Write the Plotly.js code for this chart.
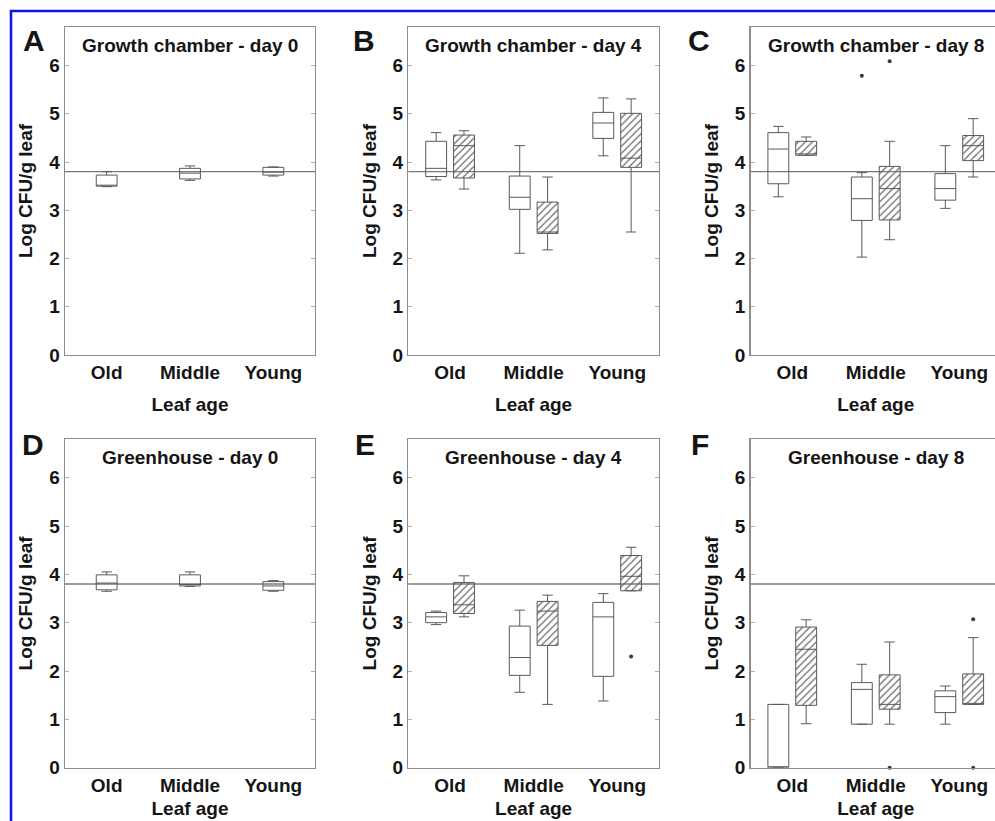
<!DOCTYPE html>
<html>
<head>
<meta charset="utf-8">
<script src="https://cdn.plot.ly/plotly-3.0.1.min.js"></script>
<style>
  html, body { margin: 0; padding: 0; overflow: hidden; background: #ffffff; }
  #chart { width: 1010px; height: 821px; }
</style>
</head>
<body>
<div id="chart"></div>
<script>
// ---------------- DATA ----------------
const categories = ['Old', 'Middle', 'Young'];
const inoculumLevel = 3.8;   // Log CFU/g leaf at inoculation (horizontal reference line)

const panelLetters = ['A', 'B', 'C', 'D', 'E', 'F'];
const panelTitles = [
  'Growth chamber - day 0', 'Growth chamber - day 4', 'Growth chamber - day 8',
  'Greenhouse - day 0', 'Greenhouse - day 4', 'Greenhouse - day 8'
];
const xTitle = 'Leaf age';
const yTitle = 'Log CFU/g leaf';
const yTicks = [0, 1, 2, 3, 4, 5, 6];

// Each row: [lower whisker, Q1, median, Q3, upper whisker] for Old, Middle, Young
// Panel A - growth chamber day 0 (open boxes only)
const statsA_open = [
  [3.49, 3.50, 3.50, 3.73, 3.80],
  [3.62, 3.65, 3.77, 3.87, 3.92],
  [3.71, 3.73, 3.79, 3.89, 3.90]
];
// Panel B - growth chamber day 4
const statsB_open = [
  [3.63, 3.70, 3.87, 4.43, 4.61],
  [2.11, 3.02, 3.27, 3.71, 4.34],
  [4.13, 4.49, 4.81, 5.03, 5.33]
];
const statsB_hatched = [
  [3.44, 3.67, 4.34, 4.56, 4.65],
  [2.18, 2.52, 2.55, 3.17, 3.69],
  [2.55, 3.89, 4.08, 5.01, 5.31]
];
// Panel C - growth chamber day 8
const statsC_open = [
  [3.28, 3.55, 4.27, 4.61, 4.74],
  [2.03, 2.79, 3.24, 3.69, 3.78],
  [3.04, 3.21, 3.45, 3.76, 4.34]
];
const statsC_hatched = [
  [4.14, 4.14, 4.17, 4.43, 4.52],
  [2.39, 2.80, 3.45, 3.91, 4.43],
  [3.69, 4.03, 4.34, 4.55, 4.90]
];
const outliersC_open = [[], [5.79], []];
const outliersC_hatched = [[], [6.09], []];
// Panel D - greenhouse day 0 (open boxes only)
const statsD_open = [
  [3.65, 3.68, 3.82, 3.99, 4.05],
  [3.75, 3.76, 3.79, 3.99, 4.05],
  [3.65, 3.67, 3.76, 3.85, 3.87]
];
// Panel E - greenhouse day 4
const statsE_open = [
  [2.96, 3.00, 3.12, 3.21, 3.24],
  [1.56, 1.91, 2.28, 2.93, 3.26],
  [1.38, 1.89, 3.12, 3.42, 3.60]
];
const statsE_hatched = [
  [3.12, 3.19, 3.37, 3.83, 3.97],
  [1.31, 2.53, 3.24, 3.44, 3.57],
  [3.66, 3.66, 3.96, 4.39, 4.56]
];
const outliersE_hatched = [[], [], [2.30]];
// Panel F - greenhouse day 8
const statsF_open = [
  [0.00, 0.00, 0.00, 1.31, 1.31],
  [0.90, 0.90, 1.62, 1.76, 2.14],
  [0.90, 1.14, 1.47, 1.59, 1.69]
];
const statsF_hatched = [
  [0.91, 1.29, 2.45, 2.91, 3.06],
  [0.90, 1.21, 1.31, 1.92, 2.60],
  [1.31, 1.31, 1.31, 1.94, 2.69]
];
const outliersF_hatched = [[], [0.0], [3.07, 0.0]];

// ---------------- STYLE / LAYOUT ----------------
const W = 1010, H = 821;
const colsPx = [[65, 315], [408.3, 659], [750.5, 1001]];
const rowsPx = [[27, 355], [439, 767.7]];
const letterShiftX = [-31, -44, -51.5, -32.4, -43.3, -50.7];
const letterShiftY = [-13.8, -13.8, -13.8, -5, -5, -5];
const xTitleStandoff = [15, 15, 15, 7, 7, 7];

const FONT = 'Liberation Sans, Arial, Helvetica, sans-serif';
const textColor = '#151515';
const frameColor = '#8c8c8c';
const boxLineColor = '#5a5a5a';
const refLineColor = '#7a7a7a';
const hatchColor = '#6a6a6a';

const panels = [
  {open: statsA_open, hatched: null, oOpen: null, oHatched: null},
  {open: statsB_open, hatched: statsB_hatched, oOpen: null, oHatched: null},
  {open: statsC_open, hatched: statsC_hatched, oOpen: outliersC_open, oHatched: outliersC_hatched},
  {open: statsD_open, hatched: null, oOpen: null, oHatched: null},
  {open: statsE_open, hatched: statsE_hatched, oOpen: null, oHatched: outliersE_hatched},
  {open: statsF_open, hatched: statsF_hatched, oOpen: null, oHatched: outliersF_hatched}
];

const col = (rows, k) => rows.map(r => r[k]);

function boxTrace(stats, xa, ya, group, single) {
  const t = {
    type: 'box', xaxis: xa, yaxis: ya,
    x: categories,
    lowerfence: col(stats, 0), q1: col(stats, 1), median: col(stats, 2),
    q3: col(stats, 3), upperfence: col(stats, 4),
    fillcolor: 'rgba(0,0,0,0)',
    line: {color: boxLineColor, width: 1},
    whiskerwidth: 0.5,
    boxpoints: false,
    hoverinfo: 'skip', showlegend: false
  };
  if (single) t.width = 0.25; else t.offsetgroup = group;
  return t;
}

function outlierTrace(outliers, xa, ya, group) {
  const xs = [], ys = [];
  outliers.forEach((vals, k) => vals.forEach(v => { xs.push(categories[k]); ys.push(v); }));
  return {
    type: 'scatter', mode: 'markers', xaxis: xa, yaxis: ya,
    x: xs, y: ys, offsetgroup: group, cliponaxis: false,
    marker: {color: '#3a3a3a', size: 4, line: {width: 0}},
    hoverinfo: 'skip', showlegend: false
  };
}

function hatchTrace(stats, xa, ya) {
  return {
    type: 'bar', xaxis: xa, yaxis: ya,
    x: categories,
    base: col(stats, 1),
    y: stats.map(r => r[3] - r[1]),
    offsetgroup: 'hatched',
    marker: {
      color: 'rgba(0,0,0,0)',
      line: {width: 0},
      pattern: {shape: '/', fgcolor: hatchColor, size: 5, solidity: 0.25}
    },
    hoverinfo: 'skip', showlegend: false
  };
}

const traces = [];
const layout = {
  width: W, height: H,
  margin: {l: 0, r: 0, t: 0, b: 0},
  paper_bgcolor: '#ffffff', plot_bgcolor: '#ffffff',
  showlegend: false,
  boxmode: 'group', boxgap: 1 / 3, boxgroupgap: 0.25,
  barmode: 'group', bargap: 1 / 3, bargroupgap: 0.25,
  scattermode: 'group', scattergap: 1 / 3,
  font: {family: FONT, color: textColor, size: 19, weight: 'bold'},
  shapes: [], annotations: []
};

panels.forEach((p, i) => {
  const n = i + 1;
  const xa = n === 1 ? 'x' : 'x' + n;
  const ya = n === 1 ? 'y' : 'y' + n;
  const xk = n === 1 ? 'xaxis' : 'xaxis' + n;
  const yk = n === 1 ? 'yaxis' : 'yaxis' + n;
  const c = colsPx[i % 3], r = rowsPx[Math.floor(i / 3)];

  layout[xk] = {
    domain: [c[0] / W, c[1] / W], anchor: ya,
    type: 'category', categoryorder: 'array', categoryarray: categories,
    range: [-0.5, 2.5],
    showline: true, mirror: true, linecolor: frameColor, linewidth: 1.3,
    ticks: '', showgrid: false, zeroline: false,
    tickfont: {family: FONT, size: 19, color: textColor, weight: 'bold'},
    title: {text: xTitle, standoff: xTitleStandoff[i],
            font: {family: FONT, size: 19, color: textColor, weight: 'bold'}}
  };
  layout[yk] = {
    domain: [1 - r[1] / H, 1 - r[0] / H], anchor: xa,
    range: [0, 6.8], tickvals: yTicks,
    showline: true, mirror: 'ticks', linecolor: frameColor, linewidth: 1.3,
    ticks: 'inside', ticklen: 4, tickcolor: '#b0b0b0', tickwidth: 1,
    showgrid: false, zeroline: false,
    tickfont: {family: FONT, size: 19, color: textColor, weight: 'bold'},
    title: {text: yTitle, standoff: 11,
            font: {family: FONT, size: 19, color: textColor, weight: 'bold'}}
  };

  traces.push(boxTrace(p.open, xa, ya, 'open', !p.hatched));
  if (p.hatched) {
    traces.push(hatchTrace(p.hatched, xa, ya));
    traces.push(boxTrace(p.hatched, xa, ya, 'hatched', false));
  }
  if (p.oOpen) traces.push(outlierTrace(p.oOpen, xa, ya, 'open'));
  if (p.oHatched) traces.push(outlierTrace(p.oHatched, xa, ya, 'hatched'));

  layout.shapes.push({
    type: 'line', xref: xa + ' domain', yref: ya,
    x0: 0, x1: 1, y0: inoculumLevel, y1: inoculumLevel,
    line: {color: refLineColor, width: 1.3}, layer: 'below'
  });

  layout.annotations.push({
    xref: xa + ' domain', yref: ya + ' domain', x: 0.5, y: 1, yshift: -18,
    xanchor: 'center', yanchor: 'middle', showarrow: false,
    text: panelTitles[i],
    font: {family: FONT, size: 19, color: textColor, weight: 'bold'}
  });
  layout.annotations.push({
    xref: xa + ' domain', yref: ya + ' domain', x: 0, y: 1,
    xshift: letterShiftX[i], yshift: letterShiftY[i],
    xanchor: 'center', yanchor: 'middle', showarrow: false,
    text: panelLetters[i],
    font: {family: FONT, size: 30, color: textColor, weight: 'bold'}
  });
});

// blue figure frame (cropped on right and bottom as in the source image)
layout.shapes.push({
  type: 'rect', xref: 'paper', yref: 'paper',
  x0: 11 / W, x1: 1.2, y0: -0.2, y1: 1 - 11 / H,
  line: {color: '#1414f0', width: 2.6}, layer: 'above'
});

Plotly.newPlot('chart', traces, layout, {staticPlot: true, displayModeBar: false});
</script>
</body>
</html>
